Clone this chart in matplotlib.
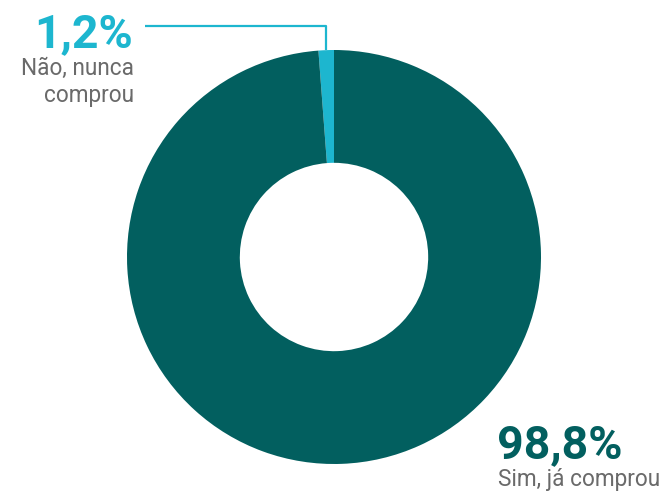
import matplotlib
matplotlib.use('Agg')
import matplotlib.pyplot as plt
import numpy as np

# purchase share
labels = ['Sim, já comprou', 'Não, nunca\ncomprou']
values = [98.8, 1.2]
colors = ['#025F5F', '#1DB6CF']
value_text = ['98,8%', '1,2%']

W, H = 663, 492
fig = plt.figure(figsize=(W / 100, H / 100), dpi=100)

# donut centred at (334, 257) px, radius 207 px
cx, cy, r = 334, 257, 207
ax = fig.add_axes([(cx - r) / W, (H - cy - r) / H, 2 * r / W, 2 * r / H])
# small slice sits just left of the top
ax.pie(values[::-1], colors=colors[::-1], startangle=90, counterclock=True,
       radius=1, wedgeprops=dict(width=0.545, edgecolor='none'))
ax.set_xlim(-1, 1)
ax.set_ylim(-1, 1)
ax.set_aspect('equal')
ax.axis('off')

# leader line for the small slice
mid = np.deg2rad(90 + values[1] / 100 * 360 / 2)
lx = np.cos(mid)
ly = (cy - 26) / r
ax.plot([lx, lx, (145 - cx) / r], [np.sin(mid), ly, ly], color=colors[1],
        lw=1.6, clip_on=False, solid_capstyle='butt')


def px(x, y):
    return x / W, 1 - y / H


grey = '#6a6a6a'
fig.text(*px(133, 47), value_text[1], ha='right', va='baseline', family='Roboto',
         fontweight='bold', fontsize=33.5, color=colors[1])
fig.text(*px(134, 75), 'Não, nunca', ha='right', va='baseline', family='Roboto',
         fontweight='normal', fontsize=16.3, color=grey)
fig.text(*px(134, 102), 'comprou', ha='right', va='baseline', family='Roboto',
         fontweight='normal', fontsize=16.3, color=grey)

fig.text(*px(497, 458), value_text[0], ha='left', va='baseline', family='Roboto',
         fontweight='bold', fontsize=33.5, color=colors[0])
fig.text(*px(498, 486), labels[0], ha='left', va='baseline', family='Roboto',
         fontweight='normal', fontsize=16.3, color=grey)

fig.savefig('out.png', dpi=100, facecolor='white')
